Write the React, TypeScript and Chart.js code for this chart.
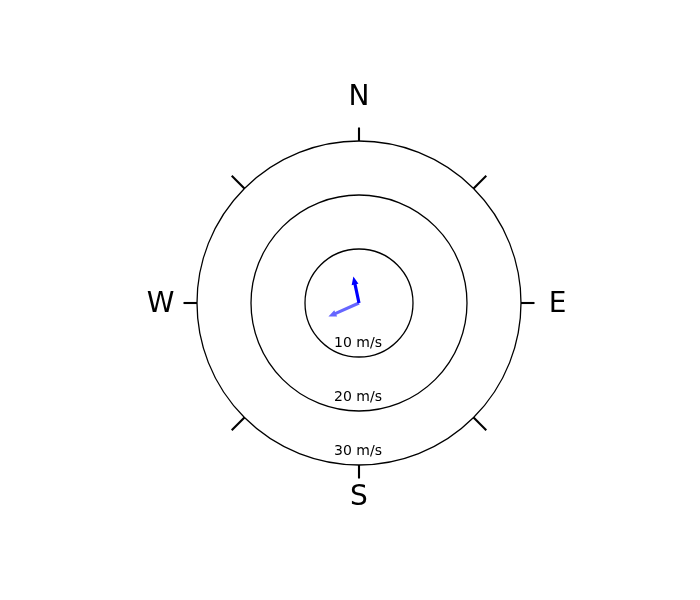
import React, { useEffect, useRef } from "react";
import { Chart, registerables } from "chart.js";

Chart.register(...registerables);

// Speed rings (m/s) and their labels
const ringSpeeds = [10, 20, 30];
const ringLabels = ["10 m/s", "20 m/s", "30 m/s"];

// Compass ticks (degrees clockwise from north) and labels
const compassAngles = [0, 45, 90, 135, 180, 225, 270, 315];
const compassLabels = ["N", "", "E", "", "S", "", "W", ""];

// Wind vectors: speed (m/s) and direction the arrow points to (deg from north, clockwise)
const arrowSpeeds = [6.2, 5.0];
const arrowDirections = [246, 348];
const arrowColors = ["rgba(0,0,255,0.6)", "rgba(0,0,255,1)"];

const PX_PER_UNIT = 5.4;

const compassPlugin = {
  id: "compassPlugin",
  afterDatasetsDraw(chart: any) {
    const ctx = chart.ctx as CanvasRenderingContext2D;
    const xs = chart.scales.x;
    const ys = chart.scales.y;
    const cx = xs.getPixelForValue(0);
    const cy = ys.getPixelForValue(0);
    const unit = xs.getPixelForValue(1) - cx;
    const outer = Math.max(...ringSpeeds);
    ctx.save();

    // rings
    ctx.strokeStyle = "#000";
    ctx.lineWidth = 1.3;
    ringSpeeds.forEach((r) => {
      ctx.beginPath();
      ctx.arc(cx, cy, r * unit, 0, Math.PI * 2);
      ctx.stroke();
    });

    // ring labels
    ctx.fillStyle = "#000";
    ctx.font = "14px 'DejaVu Sans'";
    ctx.textAlign = "center";
    ctx.textBaseline = "middle";
    ringSpeeds.forEach((r, i) => {
      ctx.fillText(ringLabels[i], cx - 1, cy + r * unit - 14);
    });

    // compass ticks
    ctx.lineWidth = 2.1;
    ctx.lineCap = "butt";
    compassAngles.forEach((a) => {
      const rad = (a * Math.PI) / 180;
      const dx = Math.sin(rad);
      const dy = -Math.cos(rad);
      const r0 = outer * unit;
      const len = a % 90 === 0 ? 13.5 : 18;
      ctx.beginPath();
      ctx.moveTo(cx + dx * r0, cy + dy * r0);
      ctx.lineTo(cx + dx * (r0 + len), cy + dy * (r0 + len));
      ctx.stroke();
    });

    // compass labels
    ctx.font = "28px 'DejaVu Sans'";
    compassAngles.forEach((a, i) => {
      const lab = compassLabels[i];
      if (!lab) return;
      const rad = (a * Math.PI) / 180;
      const sv = Math.abs(Math.cos(rad));
      const sh = Math.abs(Math.sin(rad));
      const R = outer * unit + 38 * sv + 36.5 * sh;
      const yOff = -5 * sv + 2 * sh;
      ctx.fillText(lab, cx + Math.sin(rad) * R, cy - Math.cos(rad) * R + yOff);
    });

    // arrows
    arrowSpeeds.forEach((s, i) => {
      const rad = (arrowDirections[i] * Math.PI) / 180;
      const tx = xs.getPixelForValue(s * Math.sin(rad));
      const ty = ys.getPixelForValue(s * Math.cos(rad));
      const L = Math.hypot(tx - cx, ty - cy);
      const ux = (tx - cx) / L;
      const uy = (ty - cy) / L;
      const nx = -uy;
      const ny = ux;
      const headLen = 8;
      const hw = 3.5;
      const sw = 1.6;
      const hbx = tx - ux * headLen;
      const hby = ty - uy * headLen;
      ctx.fillStyle = arrowColors[i];
      ctx.beginPath();
      ctx.moveTo(cx + nx * sw, cy + ny * sw);
      ctx.lineTo(hbx + nx * sw, hby + ny * sw);
      ctx.lineTo(hbx + nx * hw, hby + ny * hw);
      ctx.lineTo(tx, ty);
      ctx.lineTo(hbx - nx * hw, hby - ny * hw);
      ctx.lineTo(hbx - nx * sw, hby - ny * sw);
      ctx.lineTo(cx - nx * sw, cy - ny * sw);
      ctx.closePath();
      ctx.fill();
    });

    ctx.restore();
  },
};

export default function App() {
  const ref = useRef<HTMLCanvasElement | null>(null);
  useEffect(() => {
    document.body.style.margin = "0";
    if (!ref.current) return;
    const padL = 18;
    const padT = 6;
    const halfW = (700 - padL) / 2 / PX_PER_UNIT;
    const halfH = (600 - padT) / 2 / PX_PER_UNIT;
    const tips = arrowSpeeds.map((s, i) => {
      const rad = (arrowDirections[i] * Math.PI) / 180;
      return { x: s * Math.sin(rad), y: s * Math.cos(rad) };
    });
    const chart = new Chart(ref.current, {
      type: "scatter",
      data: {
        datasets: [
          {
            label: "wind",
            data: tips,
            pointRadius: 0,
            pointHoverRadius: 0,
          },
        ],
      },
      options: {
        responsive: false,
        animation: false,
        layout: { padding: { left: padL, top: padT, right: 0, bottom: 0 } },
        plugins: { legend: { display: false }, tooltip: { enabled: false } },
        events: [],
        scales: {
          x: { type: "linear", min: -halfW, max: halfW, display: false },
          y: { type: "linear", min: -halfH, max: halfH, display: false },
        },
      },
      plugins: [compassPlugin],
    });
    return () => chart.destroy();
  }, []);
  return (
    <div style={{ width: 700, height: 600, background: "#fff" }}>
      <canvas ref={ref} width={700} height={600} />
    </div>
  );
}
